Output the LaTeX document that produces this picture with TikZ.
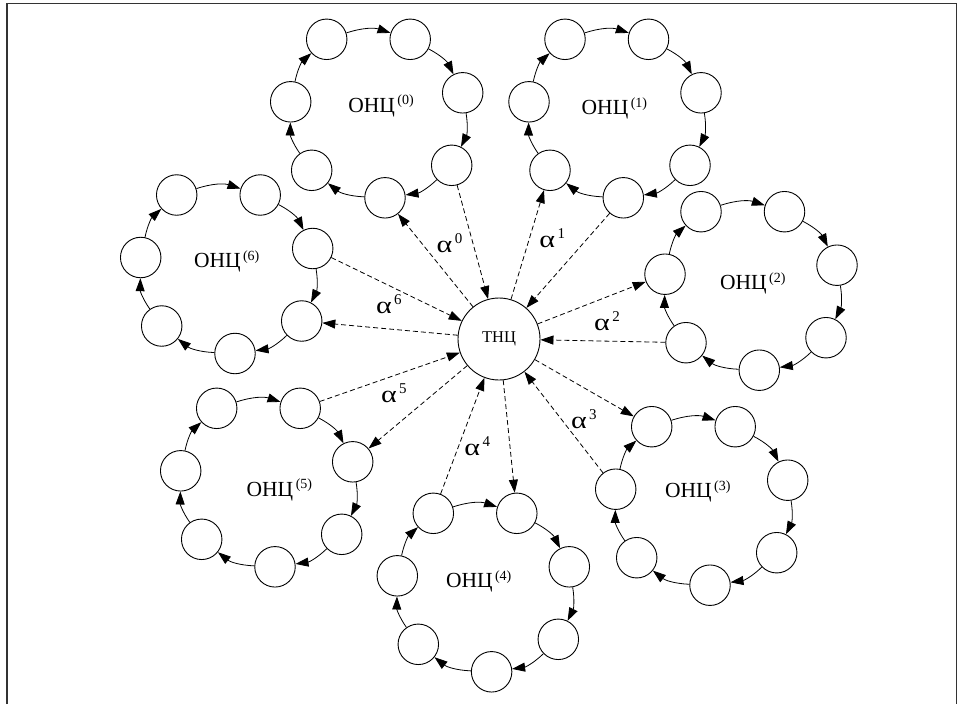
\documentclass[tikz,border=0pt]{standalone}
\usepackage{fontspec}
\setmainfont{Liberation Serif}
\usetikzlibrary{arrows.meta}
\newcommand\onclabel[1]{{\fontsize{21.5}{21.5}\selectfont ОНЦ}\hspace{2.5pt}\raisebox{7.5pt}{\fontsize{14}{14}\selectfont (#1)}}
\newcommand\alabel[1]{\scalebox{1.25}[1]{\fontsize{24}{24}\selectfont α}\hspace{2.5pt}\raisebox{9pt}{\fontsize{15}{15}\selectfont #1}}
\tikzset{
  small/.style={circle, draw, line width=0.9pt, minimum size=40.5pt, inner sep=0pt},
  big/.style={circle, draw, line width=0.9pt, minimum size=82pt, inner sep=0pt},
  ringarrow/.style={line width=0.8pt, -{Triangle[length=13pt,width=9pt]}},
  dasharrow/.style={line width=0.8pt, dash pattern=on 5pt off 3pt, -{Triangle[length=13pt,width=9pt]}},
  lbl/.style={anchor=base west, inner sep=0pt, outer sep=0pt},
  framestyle/.style={line width=1.6pt, draw=black!80}
}
\begin{document}
\begin{tikzpicture}[x=1pt,y=-1pt]
\useasboundingbox (0,0) rectangle (960,704);
\coordinate (f1) at (6.8,704);
\coordinate (f2) at (6.8,3.6);
\coordinate (f3) at (956.5,3.6);
\coordinate (f4) at (956.5,704);
\draw[framestyle] (f1) -- (f2) -- (f3) -- (f4);

\node[big] (t) at (499,339) {\fontsize{16.5}{16.5}\selectfont ТНЦ};

\foreach \k/\x/\y in {0/326.7/39.3, 1/565/39.3, 2/701/211.7, 3/651.7/426.7, 4/433.3/513.3, 5/216.7/408.3, 6/176.7/195}{
  \foreach \i/\dx/\dy in {1/0/0, 2/83.5/0, 3/136/53.5, 4/125/126, 5/58.3/158.5, 6/-15/131, 7/-36/62.5}{
    \node[small] (n\k-\i) at (\x+\dx,\y+\dy) {};
  }
  \foreach \i/\j in {1/2, 2/3, 3/4, 4/5, 5/6, 6/7, 7/1}{
    \draw[ringarrow] (n\k-\i) to[bend left=18] (n\k-\j);
  }
}

\node[lbl] (l0) at (348.3,112) {\onclabel{0}};
\node[lbl] (l1) at (581.7,114.5) {\onclabel{1}};
\node[lbl] (l2) at (720,289.5) {\onclabel{2}};
\node[lbl] (l3) at (665,497.5) {\onclabel{3}};
\node[lbl] (l4) at (446,587.8) {\onclabel{4}};
\node[lbl] (l5) at (246.7,496.2) {\onclabel{5}};
\node[lbl] (l6) at (194,267.8) {\onclabel{6}};

\draw[dasharrow] (t) -- (n0-5);
\draw[dasharrow] (n0-4) -- (t);
\draw[dasharrow] (t) -- (n1-6);
\draw[dasharrow] (n1-5) -- (t);
\draw[dasharrow] (t) -- (n2-7);
\draw[dasharrow] (n2-6) -- (t);
\draw[dasharrow] (t) -- (n3-1);
\draw[dasharrow] (n3-7) -- (t);
\draw[dasharrow] (t) -- (n4-2);
\draw[dasharrow] (n4-1) -- (t);
\draw[dasharrow] (t) -- (n5-3);
\draw[dasharrow] (n5-2) -- (t);
\draw[dasharrow] (t) -- (n6-4);
\draw[dasharrow] (n6-3) -- (t);

\node[lbl] (a0) at (436.7,252) {\alabel{0}};
\node[lbl] (a1) at (539.3,247.5) {\alabel{1}};
\node[lbl] (a2) at (594.2,330.8) {\alabel{2}};
\node[lbl] (a3) at (571,428.6) {\alabel{3}};
\node[lbl] (a4) at (464.3,455.3) {\alabel{4}};
\node[lbl] (a5) at (381,402) {\alabel{5}};
\node[lbl] (a6) at (376,313.6) {\alabel{6}};
\end{tikzpicture}
\end{document}
